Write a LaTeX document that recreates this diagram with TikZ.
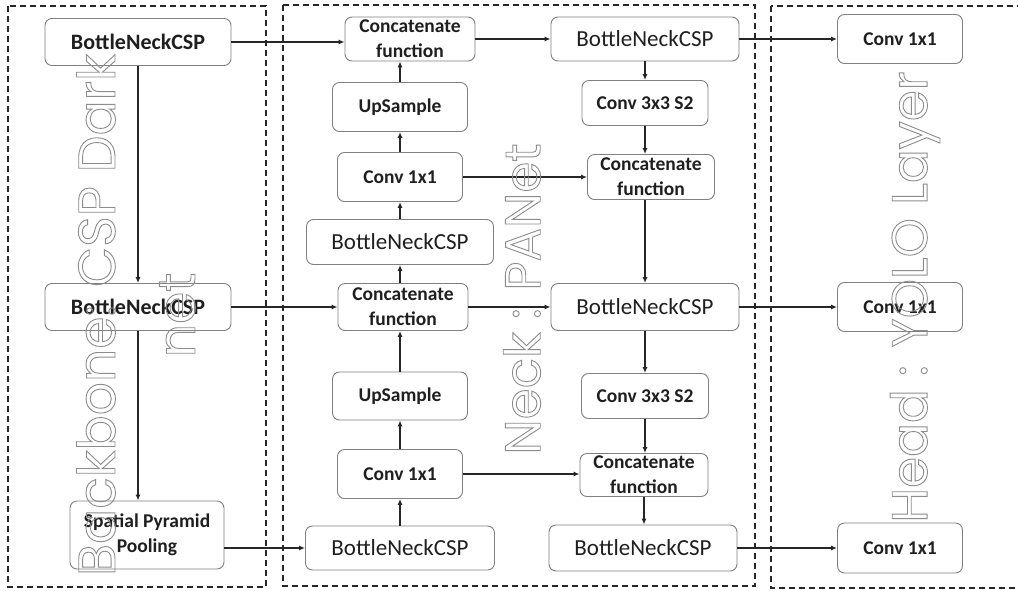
\documentclass[tikz,border=0pt]{standalone}
\usepackage{fontspec}
\setmainfont{Carlito}
\newfontfamily\wmfont{Poppins}
\usetikzlibrary{arrows.meta}
\newcommand\outlinetxt[1]{\special{pdf:literal direct 1 Tr 0.9 w}#1\special{pdf:literal direct 0 Tr}}
\tikzset{
  box/.style={draw=black!50, rounded corners=7pt, line width=0.9pt, inner sep=0pt, align=center, text=black!88},
  bf/.style={font=\bfseries\fontsize{19.5}{25}\selectfont},
  bfl/.style={font=\bfseries\fontsize{22}{25}\selectfont},
  rg/.style={font=\fontsize{23}{25}\selectfont},
  arr/.style={-{Latex[length=6pt,width=5pt]}, line width=1.3pt, black!85},
  dashbox/.style={draw=black!85, line width=1.2pt, dash pattern=on 6pt off 4pt},
  wm/.style={font=\wmfont\fontsize{#1}{80}\selectfont, text=black!45, align=center, inner sep=0pt}
}
\begin{document}
\begin{tikzpicture}[x=1pt,y=-1pt]
\clip (0,0) rectangle (1018,590);
\fill[white] (0,0) rectangle (1018,590);
% dashed groups
\draw[dashbox] (8,6) rectangle (266,587);
\draw[dashbox] (283,5) rectangle (755,586);
\draw[dashbox] (771,6) rectangle (1030,588);
% backbone
\node[box,bfl,minimum width=186pt,minimum height=47pt] (b1) at (138,42) {BottleNeckCSP};
\node[box,bfl,minimum width=186pt,minimum height=47pt] (b2) at (138,307) {BottleNeckCSP};
\node[box,bf,minimum width=154pt,minimum height=68pt] (spp) at (147,535) {Spatial Pyramid\\Pooling};
% neck left
\node[box,bf,minimum width=130pt,minimum height=44pt] (cf1) at (410,39) {Concatenate\\function};
\node[box,bf,minimum width=135pt,minimum height=49pt] (us1) at (400,107) {UpSample};
\node[box,bf,minimum width=125pt,minimum height=49pt] (c1a) at (400,177) {Conv 1x1};
\node[box,rg,minimum width=187pt,minimum height=45pt] (bnl1) at (400,242) {BottleNeckCSP};
\node[box,bf,minimum width=130pt,minimum height=47pt] (cf2) at (403,307) {Concatenate\\function};
\node[box,bf,minimum width=135pt,minimum height=48pt] (us2) at (400,396) {UpSample};
\node[box,bf,minimum width=125pt,minimum height=49pt] (c1b) at (400,474) {Conv 1x1};
\node[box,rg,minimum width=189pt,minimum height=44pt] (bnl2) at (400,548) {BottleNeckCSP};
% neck right
\node[box,rg,minimum width=188pt,minimum height=44pt] (bnr1) at (645,39) {BottleNeckCSP};
\node[box,bf,minimum width=126pt,minimum height=45pt] (c3a) at (645,103) {Conv 3x3 S2};
\node[box,bf,minimum width=127pt,minimum height=45pt] (cf3) at (651,177) {Concatenate\\function};
\node[box,rg,minimum width=188pt,minimum height=47pt] (bnr2) at (645,307) {BottleNeckCSP};
\node[box,bf,minimum width=127pt,minimum height=45pt] (c3b) at (645,396) {Conv 3x3 S2};
\node[box,bf,minimum width=128pt,minimum height=43pt] (cf4) at (644,475) {Concatenate\\function};
\node[box,rg,minimum width=188pt,minimum height=46pt] (bnr3) at (643,548) {BottleNeckCSP};
% head
\node[box,bf,minimum width=125pt,minimum height=49pt] (h1) at (900,39) {Conv 1x1};
\node[box,bf,minimum width=125pt,minimum height=49pt] (h2) at (900,307) {Conv 1x1};
\node[box,bf,minimum width=125pt,minimum height=50pt] (h3) at (900,548) {Conv 1x1};
% connectors
\draw[arr] (b1.east) -- (b1.east -| cf1.west);
\draw[arr] (cf1.east) -- (cf1.east -| bnr1.west);
\draw[arr] (bnr1.east) -- (bnr1.east -| h1.west);
\draw[arr] (b1.south) -- (b2.north);
\draw[arr] (b2.south) -- (b2.south |- spp.north);
\draw[arr] (b2.east) -- (b2.east -| cf2.west);
\draw[arr] (cf2.east) -- (cf2.east -| bnr2.west);
\draw[arr] (bnr2.east) -- (bnr2.east -| h2.west);
\draw[arr] (spp.east |- bnl2.west) -- (bnl2.west);
\draw[arr] (bnl2.north) -- (c1b.south);
\draw[arr] (c1b.north) -- (us2.south);
\draw[arr] (us2.north) -- (us2.north |- cf2.south);
\draw[arr] (bnl1.south |- cf2.north) -- (bnl1.south);
\draw[arr] (bnl1.north) -- (c1a.south);
\draw[arr] (c1a.north) -- (us1.south);
\draw[arr] (us1.north) -- (us1.north |- cf1.south);
\draw[arr] (c1a.east) -- (c1a.east -| cf3.west);
\draw[arr] (c1b.east) -- (c1b.east -| cf4.west);
\draw[arr] (bnr1.south) -- (c3a.north);
\draw[arr] (c3a.south) -- (c3a.south |- cf3.north);
\draw[arr] (bnr2.north |- cf3.south) -- (bnr2.north);
\draw[arr] (bnr2.south) -- (c3b.north);
\draw[arr] (c3b.south) -- (c3b.south |- cf4.north);
\draw[arr] (cf4.south) -- (cf4.south |- bnr3.north);
\draw[arr] (bnr3.east) -- (bnr3.east -| h3.west);
% watermark labels
\node[wm=52, rotate=90] (wb) at (136,315) {\outlinetxt{Backbone: CSP Dark\\net}};
\node[wm=50, rotate=90] (wn) at (522,299) {\outlinetxt{Neck : PANet}};
\node[wm=50, rotate=90] (wh) at (915,297) {\outlinetxt{Head : YOLO Layer}};
\end{tikzpicture}
\end{document}
